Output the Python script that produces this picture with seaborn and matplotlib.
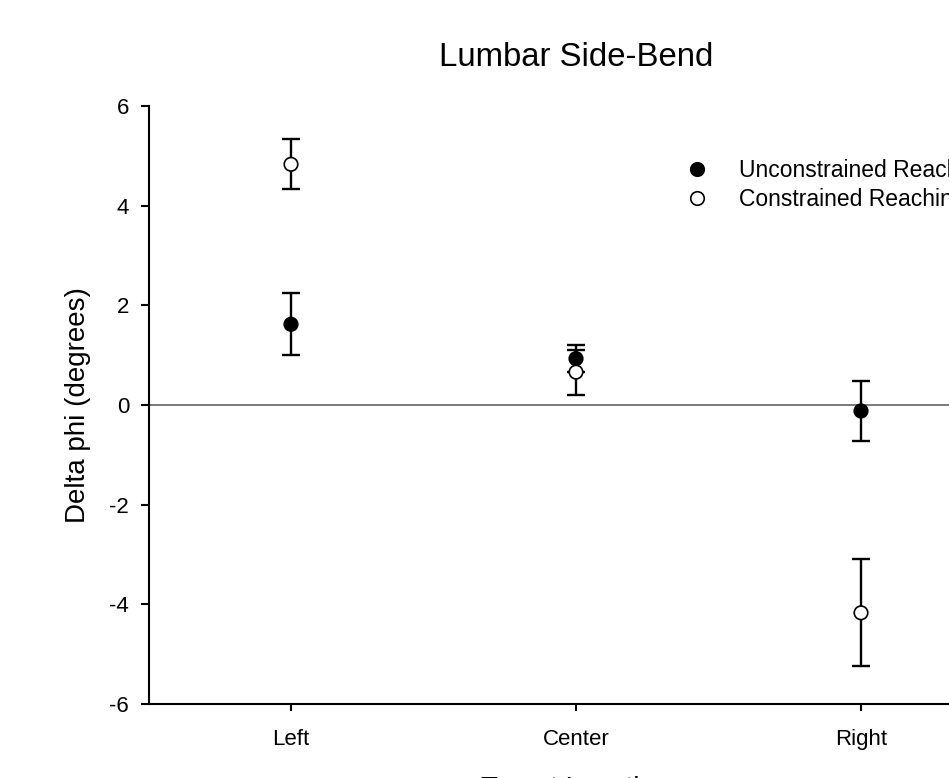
import matplotlib
matplotlib.use("Agg")
import matplotlib.pyplot as plt
import seaborn as sns
import pandas as pd

# ---- data ----
locations = ["Left", "Center", "Right"]
positions = [1, 2, 3]
unconstrained_mean = [1.62, 0.93, -0.12]
unconstrained_err = [0.62, 0.27, 0.61]
constrained_mean = [4.83, 0.66, -4.17]
constrained_err = [0.50, 0.45, 1.07]
series_names = ["Unconstrained Reaching", "Constrained Reaching"]
y_ticks = [-6, -4, -2, 0, 2, 4, 6]

df = pd.DataFrame({
    "x": positions + positions,
    "y": unconstrained_mean + constrained_mean,
    "err": unconstrained_err + constrained_err,
    "cond": [series_names[0]] * 3 + [series_names[1]] * 3,
})

sns.set_style("ticks")
plt.rcParams["font.family"] = ["Liberation Sans", "DejaVu Sans"]
plt.rcParams["text.color"] = "black"
plt.rcParams["axes.labelcolor"] = "black"
plt.rcParams["xtick.color"] = "black"
plt.rcParams["ytick.color"] = "black"
plt.rcParams["axes.edgecolor"] = "black"

W, H = 949, 778
fig = plt.figure(figsize=(W / 100, H / 100), dpi=100)
ax = fig.add_axes([148.5 / W, 1 - 704 / H, 855 / W, 598 / H])

# zero reference line
ax.axhline(0, color="#555555", lw=1.1, zorder=1)

# error bars
ax.errorbar(df["x"], df["y"], yerr=df["err"], fmt="none", ecolor="black",
            elinewidth=1.7, capsize=6.5, capthick=1.7, zorder=2)

# markers
sns.scatterplot(data=df, x="x", y="y", hue="cond",
                palette={series_names[0]: "black", series_names[1]: "white"},
                edgecolor="black", linewidth=1.2, s=95, ax=ax, zorder=3,
                legend=True)

ax.set_xlim(0.5, 3.5)
ax.set_ylim(-6, 6)
ax.set_xticks(positions)
ax.set_xticklabels(locations)
ax.set_yticks(y_ticks)
ax.set_yticklabels([str(t) for t in y_ticks])
ax.tick_params(axis="x", length=5, width=1.5, pad=13, labelsize=16)
ax.tick_params(axis="y", length=6, width=1.5, pad=8, labelsize=16)
for s in ["top", "right"]:
    ax.spines[s].set_visible(False)
for s in ["left", "bottom"]:
    ax.spines[s].set_linewidth(1.5)

ax.set_ylabel("Delta phi (degrees)", fontsize=20)
ax.yaxis.set_label_coords((78 - 148.5) / 855, 0.5)
ax.yaxis.label.set_verticalalignment("center")
ax.set_xlabel("Target Location", fontsize=20)
ax.xaxis.set_label_coords(0.5, -(776 - 704) / 598)

fig.text(576 / W, 1 - 58 / H, "Lumbar Side-Bend", fontsize=23.7,
         ha="center", va="center")

sns.move_legend(ax, "center left", bbox_to_anchor=(686.6 / W, 1 - 185 / H),
                bbox_transform=fig.transFigure, frameon=False, title=None,
                fontsize=16.5, borderpad=0, borderaxespad=0, handlelength=0.9,
                handletextpad=1.38, labelspacing=0.28)

fig.savefig("out.png", dpi=100)
